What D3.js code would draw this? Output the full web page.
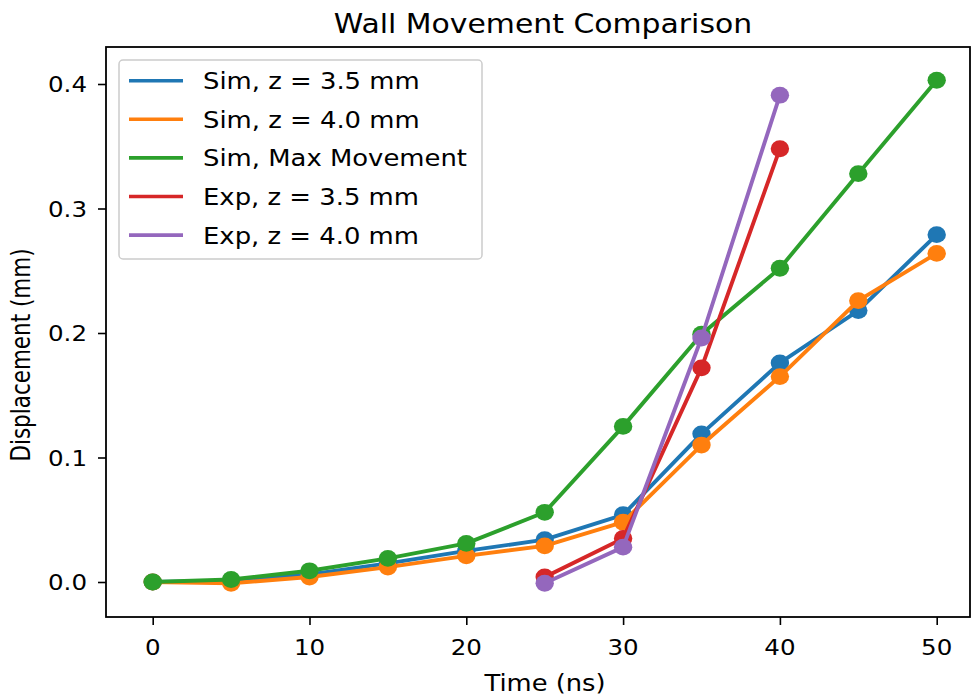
<!DOCTYPE html>
<html>
<head>
<meta charset="utf-8">
<script src="https://cdn.jsdelivr.net/npm/d3@7"></script>
<style>
  html, body { margin: 0; padding: 0; background: #fff; }
  svg { display: block; }
  text { font-family: "DejaVu Sans", sans-serif; fill: #000; }
</style>
</head>
<body>
<div id="chart"></div>
<script>
// ---- data ----
const simTime = [0, 5, 10, 15, 20, 25, 30, 35, 40, 45, 50];
const simZ35 = [0, 0.001, 0.006, 0.015, 0.025, 0.034, 0.054, 0.119, 0.176, 0.218, 0.279];
const simZ40 = [0, -0.001, 0.004, 0.012, 0.021, 0.029, 0.048, 0.110, 0.165, 0.226, 0.264];
const simMax = [0, 0.002, 0.009, 0.019, 0.031, 0.056, 0.125, 0.199, 0.252, 0.328, 0.403];
const expTime = [25, 30, 35, 40];
const expZ35 = [0.004, 0.035, 0.172, 0.348];
const expZ40 = [-0.001, 0.028, 0.196, 0.391];
const seriesNames = ["Sim, z = 3.5 mm", "Sim, z = 4.0 mm", "Sim, Max Movement", "Exp, z = 3.5 mm", "Exp, z = 4.0 mm"];
const xTicks = [0, 10, 20, 30, 40, 50];
const yTicks = [0.0, 0.1, 0.2, 0.3, 0.4];
const titleText = "Wall Movement Comparison";
const xLabel = "Time (ns)";
const yLabel = "Displacement (mm)";

const colors = ["#1f77b4", "#ff7f0e", "#2ca02c", "#d62728", "#9467bd"];
const series = [
  { name: seriesNames[0], xs: simTime, ys: simZ35 },
  { name: seriesNames[1], xs: simTime, ys: simZ40 },
  { name: seriesNames[2], xs: simTime, ys: simMax },
  { name: seriesNames[3], xs: expTime, ys: expZ35 },
  { name: seriesNames[4], xs: expTime, ys: expZ40 }
];

// ---- layout ----
const W = 972, H = 698;
const SX = 1.14; // horizontal stretch of the reference
const frame = { left: 106, right: 970, top: 47, bottom: 617 };

const svg = d3.select("#chart").append("svg")
  .attr("width", W).attr("height", H);
svg.append("rect").attr("width", W).attr("height", H).attr("fill", "#fff");

const x = d3.scaleLinear().domain([0, 50]).range([152.7, 936.7]);
const y = d3.scaleLinear().domain([0, 0.4]).range([582, 84]);

function stext(parent, px, py, str, size, anchor, rot, sx) {
  const k = sx || SX;
  const g = parent.append("g")
    .attr("transform", `translate(${px},${py}) scale(${k},1)` + (rot ? ` rotate(${rot})` : ""));
  return g.append("text").attr("x", 0).attr("y", 0)
    .attr("font-size", size).attr("text-anchor", anchor).text(str);
}

// ---- axes ----
const xAxis = svg.append("g").attr("transform", `translate(0,${frame.bottom})`)
  .call(d3.axisBottom(x).tickValues(xTicks).tickSize(8).tickSizeOuter(0).tickFormat(() => ""));
xAxis.select(".domain").remove();
xAxis.selectAll(".tick line").attr("stroke", "#000").attr("stroke-width", 1.6);
xTicks.forEach(v => stext(svg, x(v), 655, d3.format("d")(v), 21.5, "middle"));

const yAxis = svg.append("g").attr("transform", `translate(${frame.left},0)`)
  .call(d3.axisLeft(y).tickValues(yTicks).tickSize(8).tickSizeOuter(0).tickFormat(() => ""));
yAxis.select(".domain").remove();
yAxis.selectAll(".tick line").attr("stroke", "#000").attr("stroke-width", 1.6);
yTicks.forEach(v => stext(svg, 87, y(v) + 8, d3.format(".1f")(v), 21.5, "end"));

// ---- clip ----
svg.append("clipPath").attr("id", "clip").append("rect")
  .attr("x", frame.left).attr("y", frame.top)
  .attr("width", frame.right - frame.left).attr("height", frame.bottom - frame.top);

const plot = svg.append("g").attr("clip-path", "url(#clip)");
const line = d3.line().x(d => x(d[0])).y(d => y(d[1]));

series.forEach((s, i) => {
  const pts = s.xs.map((t, k) => [t, s.ys[k]]);
  const g = plot.append("g");
  g.append("path").datum(pts).attr("d", line)
    .attr("fill", "none").attr("stroke", colors[i])
    .attr("stroke-width", 3.9).attr("stroke-linejoin", "round").attr("stroke-linecap", "square");
  g.selectAll("ellipse").data(pts).enter().append("ellipse")
    .attr("cx", d => x(d[0])).attr("cy", d => y(d[1]))
    .attr("rx", 9.2).attr("ry", 8.4).attr("fill", colors[i]);
});

// ---- frame ----
svg.append("rect")
  .attr("x", frame.left).attr("y", frame.top)
  .attr("width", frame.right - frame.left).attr("height", frame.bottom - frame.top)
  .attr("fill", "none").attr("stroke", "#000").attr("stroke-width", 1.8);

// ---- legend ----
const leg = svg.append("g");
leg.append("rect").attr("x", 119).attr("y", 60).attr("width", 363).attr("height", 199)
  .attr("rx", 4).attr("ry", 4)
  .attr("fill", "#fff").attr("fill-opacity", 0.8)
  .attr("stroke", "#cccccc").attr("stroke-width", 1.5);
series.forEach((s, i) => {
  const cy = 80.7 + i * 38.6;
  leg.append("line").attr("x1", 129).attr("x2", 183).attr("y1", cy).attr("y2", cy)
    .attr("stroke", colors[i]).attr("stroke-width", 3.6);
  stext(leg, 203, cy + 8.5, s.name, 22.7, "start");
});

// ---- titles ----
stext(svg, 543, 33, titleText, 26.2, "middle");
stext(svg, 545, 691, xLabel, 22.6, "middle");
stext(svg, 30, 355, yLabel, 21.5, "middle", -90, 1.24);
</script>
</body>
</html>
